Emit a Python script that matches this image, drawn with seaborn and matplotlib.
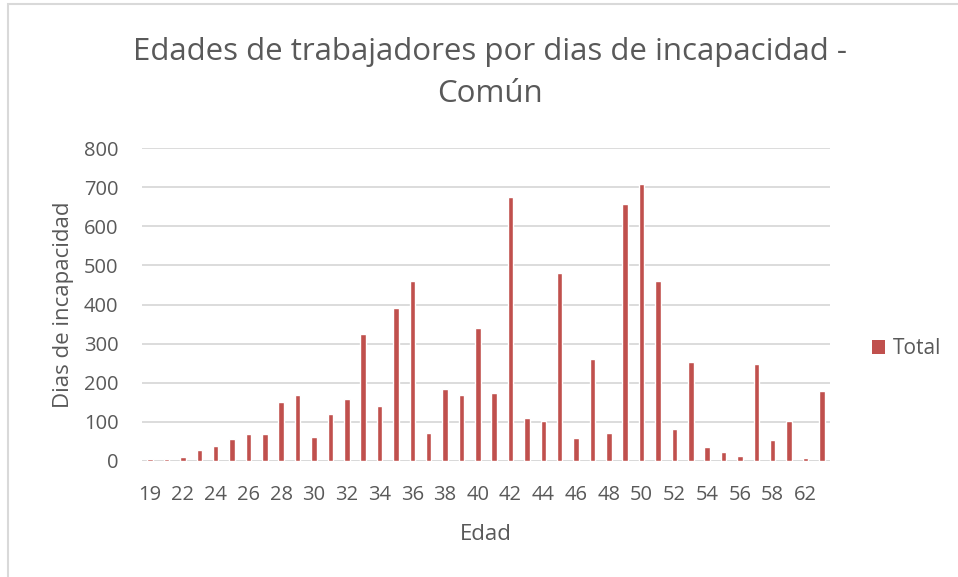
import matplotlib
matplotlib.use("Agg")
import matplotlib.pyplot as plt
import seaborn as sns
import pandas as pd
from matplotlib.patches import Rectangle, Patch

ages = ["19", "21", "22", "23", "24", "25", "26", "27", "28", "29", "30", "31",
        "32", "33", "34", "35", "36", "37", "38", "39", "40", "41", "42", "43",
        "44", "45", "46", "47", "48", "49", "50", "51", "52", "53", "54", "55",
        "56", "57", "58", "60", "62", "63"]
dias = [5, 5, 10, 29, 38, 55, 69, 69, 152, 169, 62, 121,
        158, 324, 140, 390, 461, 71, 185, 169, 340, 175, 674, 110,
        101, 480, 59, 260, 71, 657, 709, 460, 83, 253, 35, 22,
        14, 249, 53, 102, 7, 179]
yticks = [0, 100, 200, 300, 400, 500, 600, 700, 800]

title = "Edades de trabajadores por dias de incapacidad -\nComún"
xlabel = "Edad"
ylabel = "Dias de incapacidad"
series = "Total"

df = pd.DataFrame({"Edad": ages, "Dias": dias})

sns.set_theme(style="white")
plt.rcParams["font.family"] = ["Open Sans", "DejaVu Sans"]
txt = "#595959"
grid = "#d9d9d9"
bar_color = "#C0504D"

W, H = 958, 577
fig = plt.figure(figsize=(W / 100, H / 100), dpi=100)
ax = fig.add_axes([142 / W, 1 - 461 / H, (830 - 142) / W, (461 - 148) / H])

sns.barplot(data=df, x="Edad", y="Dias", order=ages, color=bar_color,
            width=0.34, ax=ax, saturation=1)

ax.set_ylim(0, 800)
ax.set_xlim(-0.5, len(ages) - 0.5)
ax.set_yticks(yticks)
ax.set_yticklabels([str(v) for v in yticks])
ax.set_xticks(range(0, len(ages), 2))
ax.set_xticklabels(ages[::2])
ax.yaxis.grid(True, color=grid, lw=1.3)
ax.set_axisbelow(True)
for s in ax.spines.values():
    s.set_visible(False)
ax.axhline(0, color=grid, lw=1.3, zorder=0.5)
ax.tick_params(axis="both", length=0, labelsize=14.5, colors=txt)
ax.tick_params(axis="y", pad=17)
ax.tick_params(axis="x", pad=17)
ax.set_xlabel(xlabel, fontsize=16, color=txt, labelpad=14)
ax.set_ylabel(ylabel, fontsize=16, color=txt, labelpad=7)

fig.text(490 / W, 1 - 73 / H, title, ha="center", va="center",
         fontsize=22.5, color=txt, linespacing=1.5)

handle = Patch(facecolor=bar_color, edgecolor="none")
fig.legend([handle], [series], loc="center left",
           bbox_to_anchor=(853 / W, 1 - 349 / H), frameon=False,
           fontsize=15, labelcolor=txt, handlelength=0.65, handleheight=0.65,
           handletextpad=0.35)

fig.patches.append(Rectangle((8 / W, -0.2), 1.5, 1.2 - 4 / H,
                             transform=fig.transFigure, fill=False,
                             edgecolor=grid, lw=1.5))

fig.savefig("out.png", dpi=100)
